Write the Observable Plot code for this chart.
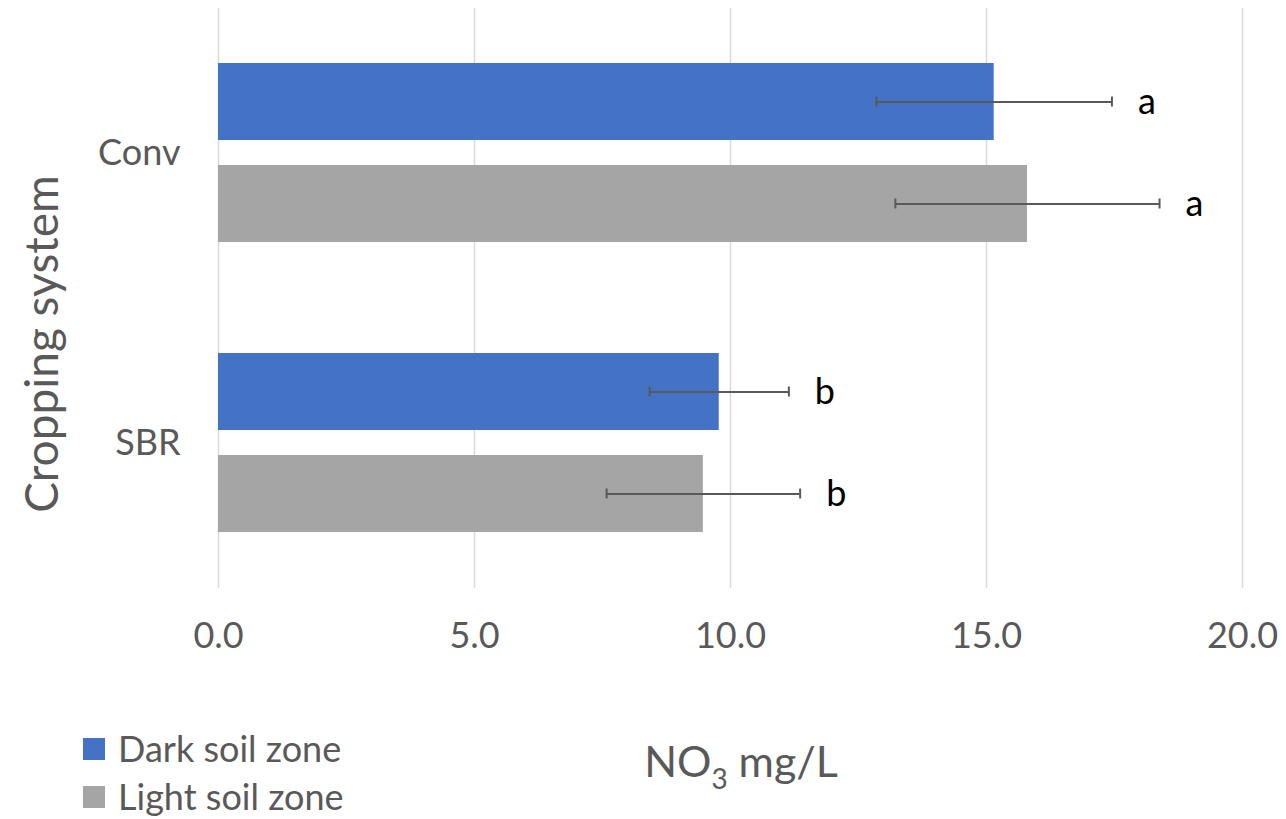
<!DOCTYPE html>
<html>
<head>
<meta charset="utf-8">
<script src="https://cdn.jsdelivr.net/npm/d3@7"></script>
<script src="https://cdn.jsdelivr.net/npm/@observablehq/plot@0.6"></script>
<style>
  body { margin: 0; background: #fff; font-family: Lato, sans-serif; }
  #wrap { position: relative; width: 1286px; height: 819px; overflow: hidden; background: #fff; }
  #ytitle { position: absolute; left: 40px; top: 344px; transform: translate(-50%, -50%) rotate(-90deg);
            font-size: 46px; color: #595959; white-space: nowrap; }
  .leg { position: absolute; left: 83px; font-size: 36px; color: #595959; display: flex; align-items: center; white-space: nowrap; line-height: 1.15; }
  .sw { width: 22px; height: 22px; margin-right: 13px; }
  #xtitle { position: absolute; left: 741px; top: 760px; transform: translate(-50%, -50%);
            font-size: 43px; color: #595959; white-space: nowrap; }
  #xtitle sub { font-size: 0.65em; vertical-align: -0.45em; line-height: 0; }
</style>
</head>
<body>
<div id="wrap">
  <div id="chart"></div>
  <div id="ytitle">Cropping system</div>
  <div id="xtitle">NO<sub>3</sub> mg/L</div>
  <div id="legend"></div>
</div>
<script>
const systems = ["Conv", "SBR"];
const zones = ["Dark soil zone", "Light soil zone"];
const darkMean = [15.15, 9.78];
const lightMean = [15.80, 9.47];
const darkErr = [2.30, 1.36];
const lightErr = [2.58, 1.89];
const darkLetter = ["a", "b"];
const lightLetter = ["a", "b"];
const xTicks = [0, 5, 10, 15, 20];
const zoneColors = ["#4472C4", "#A5A5A5"];

const rows = [];
systems.forEach((s, i) => {
  rows.push({system: s, zone: zones[0], value: darkMean[i], err: darkErr[i], letter: darkLetter[i]});
  rows.push({system: s, zone: zones[1], value: lightMean[i], err: lightErr[i], letter: lightLetter[i]});
});
rows.forEach(d => { d.lo = d.value - d.err; d.hi = d.value + d.err; });

const errStyle = {stroke: "#595959", strokeWidth: 2};

const chart = Plot.plot({
  width: 1286,
  height: 700,
  marginLeft: 218,
  marginRight: 44,
  marginTop: 7,
  marginBottom: 112,
  style: {fontFamily: "Lato, sans-serif", background: "#fff"},
  x: {domain: [0, 20], ticks: xTicks},
  y: {domain: zones, paddingInner: 0.243, paddingOuter: 0.53, axis: null},
  fy: {domain: systems, padding: 0},
  color: {domain: zones, range: zoneColors},
  marks: [
    Plot.gridX(xTicks, {stroke: "#d9d9d9", strokeOpacity: 1, strokeWidth: 1.5}),
    Plot.barX(rows, {x: "value", y: "zone", fy: "system", fill: "zone"}),
    Plot.ruleY(rows, {x1: "lo", x2: "hi", y: "zone", fy: "system", ...errStyle}),
    Plot.tickX(rows, {x: "lo", y: "zone", fy: "system", insetTop: 33.5, insetBottom: 33.5, ...errStyle}),
    Plot.tickX(rows, {x: "hi", y: "zone", fy: "system", insetTop: 33.5, insetBottom: 33.5, ...errStyle}),
    Plot.text(rows, {x: "hi", y: "zone", fy: "system", text: "letter", dx: 26, textAnchor: "start", fill: "#000", fontSize: 36}),
    Plot.axisX(xTicks, {tickSize: 0, tickPadding: 34, fontSize: 36, tickFormat: d3.format(".1f"), color: "#595959", label: null}),
    Plot.axisFy({anchor: "left", tickSize: 0, tickPadding: 38, fontSize: 36, color: "#595959", label: null})
  ]
});
document.getElementById("chart").appendChild(chart);

const legend = document.getElementById("legend");
const legTops = [728, 776];
zones.forEach((z, i) => {
  const item = document.createElement("div");
  item.className = "leg";
  item.style.top = legTops[i] + "px";
  const sw = document.createElement("div");
  sw.className = "sw";
  sw.style.background = zoneColors[i];
  const t = document.createElement("span");
  t.textContent = z;
  item.appendChild(sw);
  item.appendChild(t);
  legend.appendChild(item);
});
</script>
</body>
</html>
